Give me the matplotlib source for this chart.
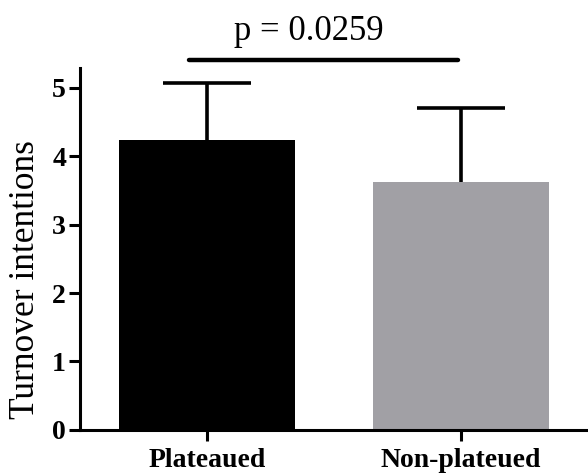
import matplotlib.pyplot as plt

categories = ["Plateaued", "Non-plateued"]
means = [4.24, 3.63]
sd_upper = [0.83, 1.08]
bar_colors = ["#000000", "#a1a0a5"]
p_label = "p = 0.0259"

plt.rcParams['font.family'] = ['Liberation Serif', 'DejaVu Serif']

fig = plt.figure(figsize=(5.88, 4.75), dpi=100)
ax = fig.add_axes([0.136, 0.095, 0.864, 0.762])

x = list(range(len(categories)))
ax.bar(x, means, width=0.69, color=bar_colors, zorder=2)

# upper error bars only (line + top cap)
tops = [m + s for m, s in zip(means, sd_upper)]
ax.vlines(x, means, tops, color="black", lw=2.6, zorder=1)
ax.hlines(tops, [i - 0.175 for i in x], [i + 0.175 for i in x],
          color="black", lw=2.6, zorder=1)

ax.set_xlim(-0.5, 1.5)
ax.set_ylim(0, 5.29)
ax.set_yticks(range(6))
ax.set_xticks(x)
ax.set_xticklabels(categories)
ax.set_ylabel("Turnover intentions", fontsize=25.5)
ax.yaxis.set_label_coords(-0.074, 0.414)

for lab in ax.get_xticklabels() + ax.get_yticklabels():
    lab.set_fontweight("bold")
    lab.set_fontsize(20)

ax.spines["top"].set_visible(False)
ax.spines["right"].set_visible(False)
ax.spines["left"].set_linewidth(2.2)
ax.spines["bottom"].set_linewidth(2.2)
ax.tick_params(width=2.2, length=8, pad=2)
ax.tick_params(axis="x", pad=5)

# significance bar
ax.plot([-0.07, 0.99], [5.41, 5.41], color="black", lw=3.2,
        solid_capstyle="round", clip_on=False)
ax.text(0.40, 5.58, p_label, ha="center", va="bottom", fontsize=25)

plt.savefig("out.png", dpi=100)
